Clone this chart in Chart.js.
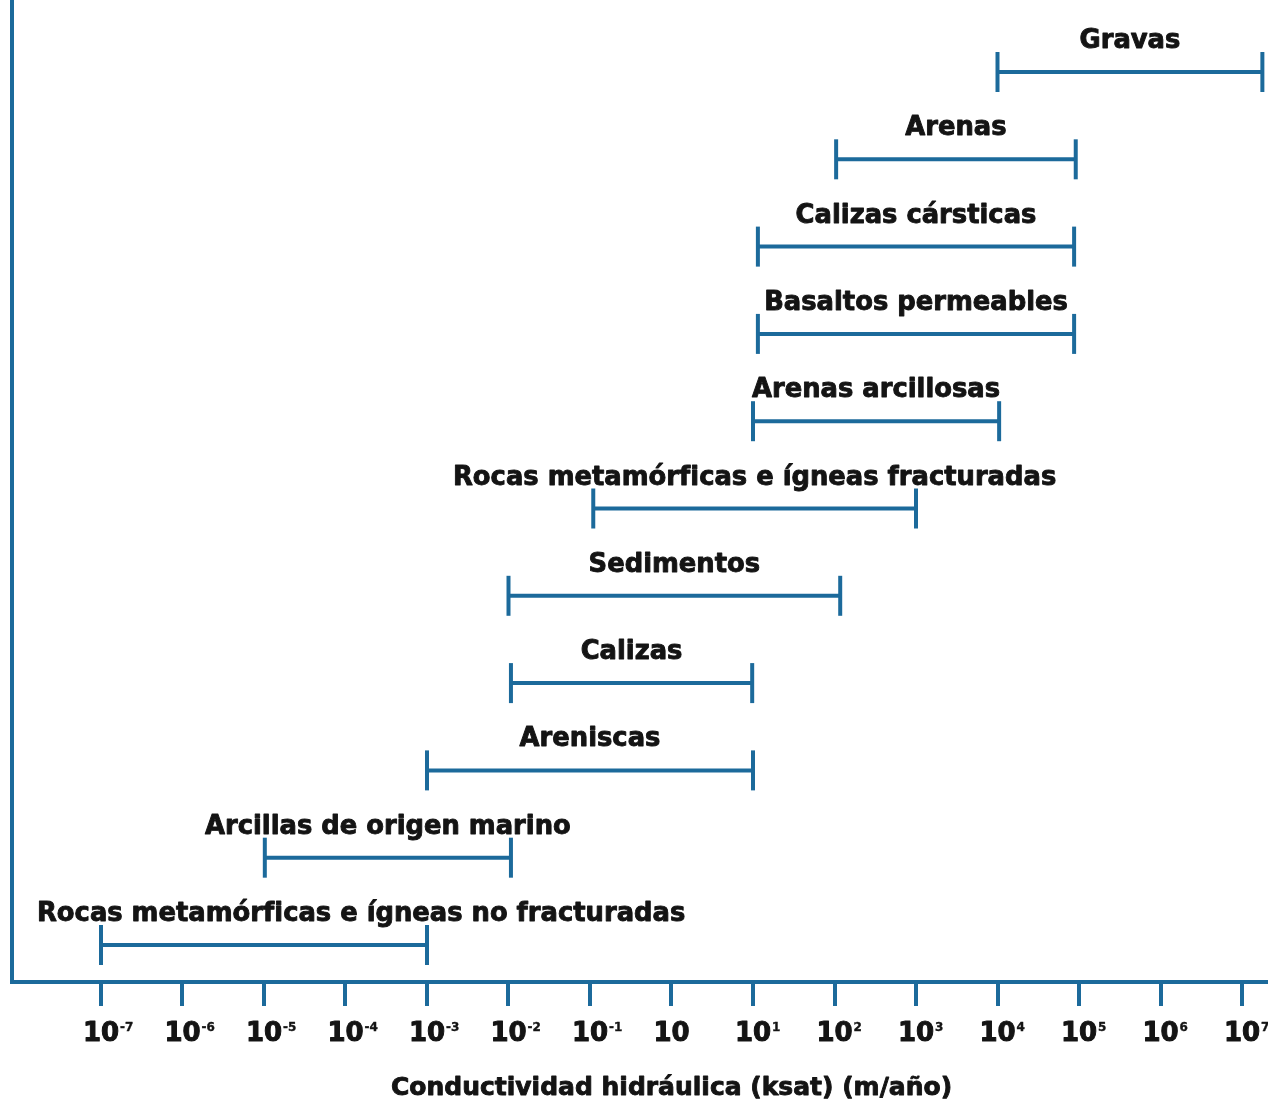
<!DOCTYPE html>
<html lang="es">
<head>
<meta charset="utf-8">
<title>Conductividad hidráulica</title>
<script src="https://cdn.jsdelivr.net/npm/chart.js@4.4.1/dist/chart.umd.min.js"></script>
<style>
  html, body { margin: 0; padding: 0; background: #ffffff; }
  canvas { display: block; }
</style>
</head>
<body>
<canvas id="grafico" width="1268" height="1102"></canvas>
<script>
// Rangos de conductividad hidráulica por material, en exponentes de 10 (m/año)
const materiales = [
  'Gravas',
  'Arenas',
  'Calizas cársticas',
  'Basaltos permeables',
  'Arenas arcillosas',
  'Rocas metamórficas e ígneas fracturadas',
  'Sedimentos',
  'Calizas',
  'Areniscas',
  'Arcillas de origen marino',
  'Rocas metamórficas e ígneas no fracturadas'
];
const desde = [4, 2.02, 1.06, 1.06, 1.0, -0.96, -2.0, -1.97, -3, -4.99, -7];
const hasta = [7.25, 4.96, 4.94, 4.94, 4.02, 3, 2.07, 0.99, 1, -1.97, -3];

// Marcas del eje x y sus etiquetas (base y exponente)
const exponentes = [-7, -6, -5, -4, -3, -2, -1, 0, 1, 2, 3, 4, 5, 6, 7];
const etiquetaBase = '10';
const etiquetaExp = ['-7', '-6', '-5', '-4', '-3', '-2', '-1', '', '1', '2', '3', '4', '5', '6', '7'];
const tituloEje = 'Conductividad hidráulica (ksat) (m/año)';

const AZUL = '#1c6a9b';
const NEGRO = '#141414';
const FUENTE = '"DejaVu Sans", "Liberation Sans", sans-serif';

const n = materiales.length;
const conjuntos = materiales.map((m, i) => ({
  label: m,
  data: [{ x: desde[i], y: n - 1 - i }, { x: hasta[i], y: n - 1 - i }],
  showLine: true,
  borderColor: AZUL,
  borderWidth: 4,
  pointStyle: 'line',
  pointRotation: 90,
  pointRadius: 20,
  pointHoverRadius: 20,
  pointBorderColor: AZUL,
  pointBorderWidth: 4,
  pointHoverBorderWidth: 4
}));

// Texto en negrita reforzada (relleno más un trazo fino del mismo color)
function textoGrueso(ctx, txt, x, y, trazo) {
  ctx.fillText(txt, x, y);
  ctx.lineWidth = trazo;
  ctx.lineJoin = 'round';
  ctx.strokeText(txt, x, y);
}

// Nombre de cada material sobre su rango, sin salirse del área
const nombres = {
  id: 'nombres',
  afterDatasetsDraw(chart) {
    const ctx = chart.ctx;
    const area = chart.chartArea;
    ctx.save();
    ctx.font = `bold 25.8px ${FUENTE}`;
    ctx.fillStyle = NEGRO;
    ctx.strokeStyle = NEGRO;
    ctx.textAlign = 'left';
    ctx.textBaseline = 'alphabetic';
    chart.data.datasets.forEach((ds, i) => {
      const pts = chart.getDatasetMeta(i).data;
      const w = ctx.measureText(ds.label).width;
      let cx = (pts[0].x + pts[1].x) / 2;
      cx = Math.max(cx, area.left + 25 + w / 2);
      cx = Math.min(cx, area.right - w / 2);
      textoGrueso(ctx, ds.label, cx - w / 2, pts[0].y - 24, 0.9);
    });
    ctx.restore();
  }
};

// Etiquetas de potencias de 10 bajo cada marca y título del eje x
const ejeX = {
  id: 'ejeX',
  afterDraw(chart) {
    const ctx = chart.ctx;
    const sx = chart.scales.x;
    const base = chart.chartArea.bottom + 59;
    ctx.save();
    ctx.fillStyle = NEGRO;
    ctx.strokeStyle = NEGRO;
    ctx.textBaseline = 'alphabetic';
    ctx.textAlign = 'left';
    exponentes.forEach((v, i) => {
      const px = sx.getPixelForValue(v);
      ctx.font = `bold 26px ${FUENTE}`;
      const wb = ctx.measureText(etiquetaBase).width;
      textoGrueso(ctx, etiquetaBase, px - wb / 2, base, 1);
      if (etiquetaExp[i]) {
        ctx.font = `bold 12px ${FUENTE}`;
        textoGrueso(ctx, etiquetaExp[i], px + wb / 2 + 1, base - 10.5, 0.4);
      }
    });
    // título centrado bajo la marca central del eje
    ctx.font = `bold 25px ${FUENTE}`;
    const wt = ctx.measureText(tituloEje).width;
    const cx = sx.getPixelForValue(exponentes[Math.floor(exponentes.length / 2)]);
    textoGrueso(ctx, tituloEje, cx - wt / 2, chart.chartArea.bottom + 113, 0.9);
    ctx.restore();
  }
};

new Chart(document.getElementById('grafico'), {
  type: 'scatter',
  data: { datasets: conjuntos },
  options: {
    responsive: false,
    animation: false,
    events: [],
    layout: { padding: 0, autoPadding: false },
    plugins: { legend: { display: false }, tooltip: { enabled: false } },
    scales: {
      x: {
        type: 'linear',
        min: -8.092,
        max: 7.319,
        afterBuildTicks: (s) => { s.ticks = exponentes.map(v => ({ value: v })); },
        afterFit: (s) => { s.height = 120; },
        ticks: { display: false },
        grid: {
          display: true,
          drawOnChartArea: false,
          drawTicks: true,
          tickLength: 24,
          lineWidth: 4,
          tickWidth: 4,
          tickColor: AZUL,
          color: AZUL
        },
        border: { display: true, color: AZUL, width: 4 },
        title: { display: false }
      },
      y: {
        type: 'linear',
        min: -0.424,
        max: 10.825,
        afterFit: (s) => { s.width = 12; },
        ticks: { display: false },
        grid: { display: false, drawTicks: false },
        border: { display: true, color: AZUL, width: 4 }
      }
    }
  },
  plugins: [nombres, ejeX]
});
</script>
</body>
</html>
